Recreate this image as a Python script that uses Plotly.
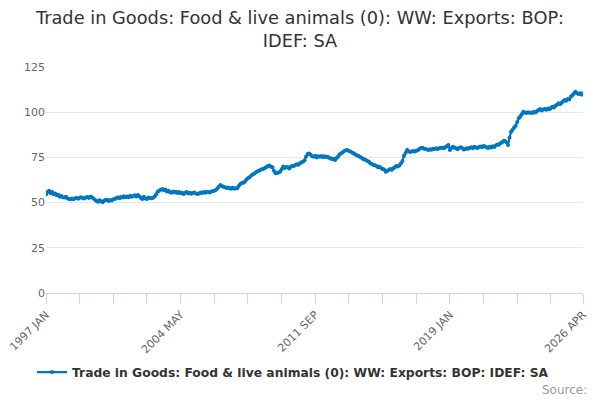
import plotly.graph_objects as go

MONTHS = ["JAN", "FEB", "MAR", "APR", "MAY", "JUN", "JUL", "AUG", "SEP", "OCT", "NOV", "DEC"]
categories = [f"{y} {m}" for y in range(1997, 2027) for m in MONTHS][:352]

values = [
    54.5, 55.8, 56.6, 55.2, 55.9, 54.6, 55.0, 54.1, 54.3, 53.3, 53.6, 53.0,   # 1997
    52.8, 53.2, 52.4, 52.0, 51.8, 52.3, 51.9, 52.4, 52.6, 52.1, 52.7, 52.9,   # 1998
    52.5, 52.2, 52.8, 53.1, 52.6, 53.3, 53.0, 52.2, 51.6, 50.9, 50.5, 51.3,   # 1999
    50.8, 50.2, 51.0, 51.6, 51.4, 50.9, 51.5, 51.2, 51.8, 52.0, 52.6, 52.9,   # 2000
    52.4, 53.1, 52.8, 53.5, 53.0, 53.4, 52.9, 53.8, 53.2, 53.6, 54.0, 53.4,   # 2001
    54.2, 53.5, 52.6, 52.0, 53.2, 52.3, 52.0, 52.8, 52.5, 52.4, 52.7, 53.4,   # 2002
    54.6, 56.0, 56.5, 57.1, 57.5, 56.8, 57.2, 56.1, 56.6, 55.7, 55.4, 56.1,   # 2003
    55.6, 56.0, 55.3, 55.9, 55.2, 55.5, 54.8, 55.5, 55.8, 55.0, 55.4, 54.9,   # 2004
    55.3, 55.6, 55.1, 54.8, 55.1, 55.6, 55.3, 55.8, 55.5, 56.0, 55.9, 55.6,   # 2005
    56.1, 56.3, 56.6, 57.0, 57.8, 58.9, 59.7, 59.2, 58.8, 58.5, 58.1, 58.3,   # 2006
    58.0, 57.7, 58.2, 57.6, 57.9, 57.9, 59.2, 60.3, 60.8, 61.0, 61.6, 62.8,   # 2007
    63.5, 64.0, 64.8, 65.5, 66.0, 66.6, 67.2, 67.5, 68.0, 68.4, 68.6, 69.1,   # 2008
    69.6, 70.2, 70.5, 69.8, 69.5, 67.6, 66.2, 66.4, 66.6, 67.0, 68.5, 69.9,   # 2009
    69.2, 69.7, 69.5, 68.9, 69.8, 70.4, 70.2, 70.8, 71.2, 71.0, 71.8, 72.3,   # 2010
    72.6, 73.4, 75.5, 76.9, 77.2, 76.4, 75.6, 75.4, 75.9, 75.0, 75.7, 75.4,   # 2011
    75.8, 75.1, 75.6, 75.2, 75.4, 74.8, 74.5, 74.0, 74.2, 73.6, 74.6, 75.5,   # 2012
    76.7, 77.3, 77.9, 78.5, 78.9, 79.1, 78.6, 78.3, 77.7, 77.3, 76.8, 76.2,   # 2013
    75.9, 75.4, 74.9, 74.3, 74.0, 73.5, 73.0, 72.6, 71.8, 71.4, 70.8, 70.6,   # 2014
    70.3, 69.5, 69.8, 69.2, 68.6, 68.3, 67.1, 67.5, 68.0, 68.6, 68.2, 69.0,   # 2015
    69.6, 70.2, 70.0, 70.5, 71.7, 73.0, 75.9, 77.5, 79.1, 78.4, 78.0, 78.3,   # 2016
    78.5, 78.2, 78.7, 79.0, 79.6, 80.2, 80.4, 79.8, 79.6, 79.4, 79.1, 79.5,   # 2017
    79.2, 79.8, 79.6, 80.1, 79.7, 80.0, 80.3, 80.4, 80.0, 80.6, 81.2, 81.9,   # 2018
    79.1, 80.2, 80.9, 80.4, 80.0, 79.5, 80.3, 80.6, 80.2, 79.4, 79.6, 80.1,   # 2019
    79.8, 80.3, 80.6, 80.1, 80.9, 80.5, 80.2, 80.7, 81.0, 80.6, 81.3, 81.0,   # 2020
    80.6, 80.2, 80.9, 80.5, 81.2, 80.8, 81.6, 82.2, 82.0, 82.8, 83.3, 84.1,   # 2021
    84.1, 83.2, 81.9, 86.0, 89.2, 90.3, 91.5, 92.5, 94.6, 96.6, 97.8, 98.9,   # 2022
    100.3, 99.8, 99.5, 100.0, 99.7, 99.9, 99.6, 100.2, 99.9, 100.6, 101.2, 101.8,  # 2023
    101.0, 101.5, 101.8, 101.4, 102.0, 101.7, 102.3, 103.0, 102.6, 103.5, 104.1, 104.9,  # 2024
    104.4, 105.2, 106.0, 106.7, 106.3, 107.3, 107.0, 108.5, 109.4, 110.2, 111.3, 110.6,  # 2025
    110.1, 110.5, 109.8, 110.5,  # 2026
]

series_name = "Trade in Goods: Food & live animals (0): WW: Exports: BOP: IDEF: SA"
title_text = "Trade in Goods: Food & live animals (0): WW: Exports: BOP:<br>IDEF: SA"
label_cats = ["1997 JAN", "2004 MAY", "2011 SEP", "2019 JAN", "2026 APR"]
y_ticks = [0, 25, 50, 75, 100, 125]

# tick marks every 22 months, labels only on selected categories
tick_cats = [categories[i] for i in range(0, 351, 22)] + [categories[-1]]
tick_text = [c if c in label_cats else "" for c in tick_cats]

color = "#0076c0"
FONT = "DejaVu Sans, Verdana, sans-serif"

fig = go.Figure()
fig.add_trace(go.Scatter(
    x=categories, y=values, mode="lines+markers",
    name=f"<b>{series_name}</b>",
    line=dict(color=color, width=2.2),
    marker=dict(color=color, size=4),
))

fig.update_layout(
    width=600, height=400,
    paper_bgcolor="white", plot_bgcolor="white",
    margin=dict(l=46, r=17, t=67, b=107, autoexpand=False),
    font=dict(family=FONT, color="#666666", size=11),
    title=dict(text=title_text, x=0.5, xanchor="center", y=0.94, yanchor="middle",
               font=dict(family=FONT, size=17.8, color="#333333")),
    showlegend=True,
    legend=dict(orientation="h", x=-0.026, xanchor="left", y=-0.35, yanchor="middle",
                font=dict(family=FONT, size=12.3, color="#333333")),
    xaxis=dict(
        type="category", categoryorder="array", categoryarray=categories,
        range=[0, len(categories) - 1], automargin=False,
        tickmode="array", tickvals=tick_cats, ticktext=tick_text,
        tickangle=-45, ticks="outside", ticklen=10, tickcolor="#ccd6eb",
        showline=True, linecolor="#ccd6eb", linewidth=1,
        showgrid=False, zeroline=False,
        tickfont=dict(size=11, color="#666666"),
    ),
    yaxis=dict(
        range=[0, 125], tickmode="array", tickvals=y_ticks, automargin=False,
        showgrid=True, gridcolor="#e6e6e6", gridwidth=1,
        zeroline=False, showline=False, ticks="",
        tickfont=dict(size=11, color="#666666"),
    ),
    annotations=[dict(text="Source:", xref="paper", yref="paper",
                      x=1.011, xanchor="right", y=-0.43, yanchor="middle",
                      showarrow=False, font=dict(family=FONT, size=12, color="#999999"))],
)

fig.write_html("out.html", config={"displayModeBar": False},
               post_script="document.body.style.margin='0';")
